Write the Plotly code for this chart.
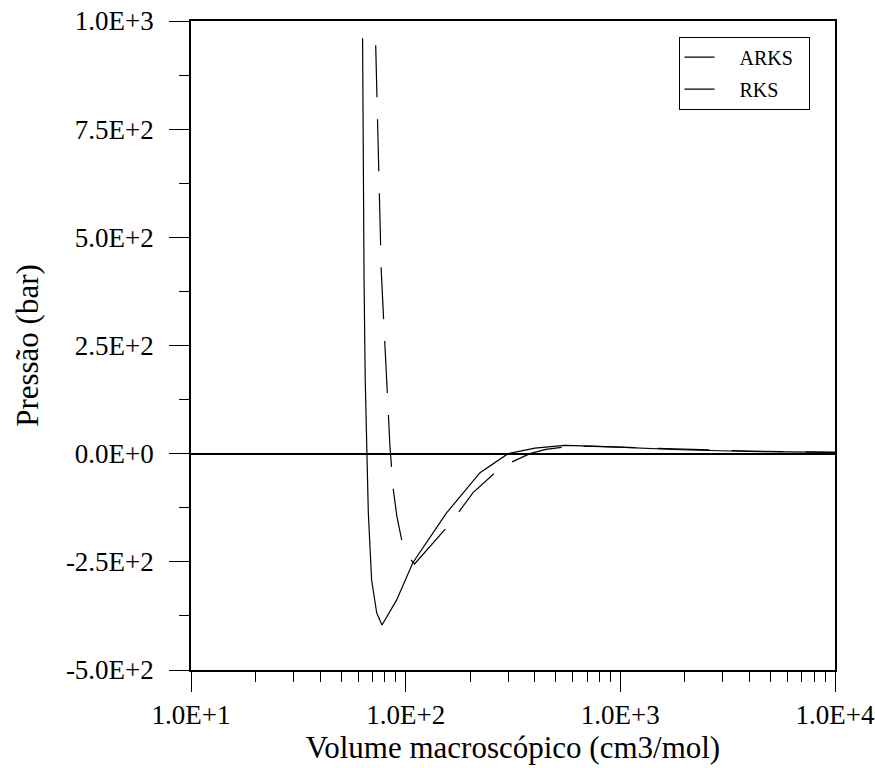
import plotly.graph_objects as go

# ---- data ----
arks_v = [63.0, 63.2, 63.5, 64.0, 64.8, 66.0, 67.0, 69.4, 73.3, 77.6, 84.0, 90.8, 108, 130, 155, 222, 300, 400, 550, 800, 1000, 1900, 4000, 10000]
arks_p = [960, 800, 600, 400, 170, 0, -137, -292, -368, -396, -365, -338, -252, -192, -137, -44, 0, 13, 19, 17, 15, 9, 5, 3]

rks_v = [72.5, 73.5, 74.1, 75.0, 77.0, 79.5, 81.8, 83.0, 84.5, 86.1, 87.6, 91.0, 95.8, 102, 110, 164, 206, 280, 379, 450, 600, 1000, 2000, 4000, 10000]
rks_p = [944, 826, 720, 604, 420, 280, 171, 95, 16, -30, -83, -145, -199, -235, -255, -157, -90, -30, 0, 10, 18, 15, 10, 6, 3]

y_tickvals = [-500, -250, 0, 250, 500, 750, 1000]
y_ticktext = ["-5.0E+2", "-2.5E+2", "0.0E+0", "2.5E+2", "5.0E+2", "7.5E+2", "1.0E+3"]
x_tickvals = [10, 100, 1000, 10000]
x_ticktext = ["1.0E+1", "1.0E+2", "1.0E+3", "1.0E+4"]
x_minor = [m * d for d in (10, 100, 1000) for m in range(2, 10)]

FONT = "Liberation Serif"
NB = "\u00a0"

fig = go.Figure()
fig.add_trace(go.Scatter(x=arks_v, y=arks_p, mode="lines", name=NB * 4 + "ARKS" + NB * 2,
                         line=dict(color="black", width=1.2), legendgroup="a"))
fig.add_trace(go.Scatter(x=rks_v, y=rks_p, mode="lines", name=NB * 4 + "RKS",
                         line=dict(color="black", width=1.2, dash="52px,22px"), legendgroup="b"))

fig.update_layout(
    width=875, height=768,
    margin=dict(l=191, r=40, t=21, b=98, autoexpand=False),
    plot_bgcolor="white", paper_bgcolor="white",
    font=dict(family=FONT, color="black", size=27),
    showlegend=True,
    legend=dict(x=0.757, y=0.976, xanchor="left", yanchor="top",
                bordercolor="black", borderwidth=1, bgcolor="white",
                font=dict(family=FONT, size=20, color="black"),
                traceorder="grouped", tracegroupgap=3),
    xaxis=dict(type="log", range=[1, 4], tickvals=x_tickvals, ticktext=x_ticktext,
               automargin=False,
               showgrid=False, zeroline=False, showline=True, linecolor="black", linewidth=1.5,
               mirror=True, ticks="outside", ticklen=20, tickwidth=1, tickcolor="black",
               minor=dict(tickvals=x_minor, ticks="outside", ticklen=10, tickwidth=1, tickcolor="black", showgrid=False),
               tickfont=dict(family=FONT, size=27),
               title=dict(text="Volume macroscópico (cm3/mol)", font=dict(family=FONT, size=31), standoff=0)),
    yaxis=dict(range=[-500, 1000], tickvals=y_tickvals, ticktext=y_ticktext,
               automargin=False,
               showgrid=False, zeroline=True, zerolinecolor="black", zerolinewidth=1.5,
               showline=True, linecolor="black", linewidth=1.5, mirror=True,
               ticks="outside", ticklen=20, tickwidth=1, tickcolor="black",
               ticklabelstandoff=10,
               minor=dict(dtick=125, tick0=-500, ticks="outside", ticklen=10, tickwidth=1, tickcolor="black", showgrid=False),
               tickfont=dict(family=FONT, size=27),
               title=dict(text="Pressão (bar)", font=dict(family=FONT, size=31), standoff=18)),
)

fig.write_html("out.html")
